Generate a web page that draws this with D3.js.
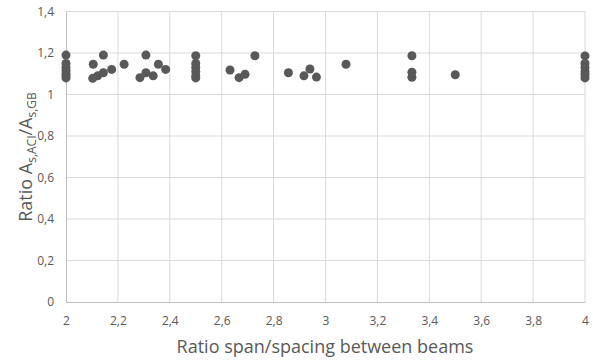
<!DOCTYPE html>
<html>
<head>
<meta charset="utf-8">
<script src="https://cdn.jsdelivr.net/npm/d3@7"></script>
<style>
  body { margin: 0; background: #fff; }
  svg text { font-family: "Open Sans", "Liberation Sans", sans-serif; fill: #595959; }
</style>
</head>
<body>
<svg id="chart" width="593" height="360"></svg>
<script>
// Span/spacing ratio of each case and the ACI/GB reinforcement area ratio
const spanRatio = [
  2, 2, 2, 2, 2, 2, 2,
  2.105, 2.144, 2.103, 2.122, 2.144, 2.176, 2.224,
  2.285, 2.308, 2.308, 2.336, 2.356, 2.384,
  2.5, 2.5, 2.5, 2.5, 2.5, 2.5,
  2.632, 2.667, 2.69, 2.728,
  2.857, 2.917, 2.94, 2.965, 3.079,
  3.333, 3.333, 3.333, 3.5,
  4, 4, 4, 4, 4, 4
];
const areaRatio = [
  1.19, 1.15, 1.13, 1.115, 1.10, 1.09, 1.08,
  1.146, 1.19, 1.078, 1.09, 1.105, 1.121, 1.146,
  1.081, 1.19, 1.105, 1.09, 1.146, 1.121,
  1.187, 1.15, 1.13, 1.11, 1.09, 1.08,
  1.118, 1.081, 1.097, 1.187,
  1.105, 1.09, 1.123, 1.084, 1.146,
  1.187, 1.107, 1.083, 1.095,
  1.186, 1.15, 1.13, 1.11, 1.095, 1.08
];
const xTicks = [2, 2.2, 2.4, 2.6, 2.8, 3, 3.2, 3.4, 3.6, 3.8, 4];
const yTicks = [0, 0.2, 0.4, 0.6, 0.8, 1, 1.2, 1.4];

const svg = d3.select("#chart");
const plotLeft = 66, plotRight = 585, plotTop = 11.5, plotBottom = 302;

const x = d3.scaleLinear().domain([2, 4]).range([plotLeft, plotRight]);
const y = d3.scaleLinear().domain([0, 1.4]).range([plotBottom, plotTop]);
const fmt = v => String(+v.toFixed(1)).replace(".", ",");

// Gridlines
svg.append("g").selectAll("line").data(yTicks.slice(1)).join("line")
  .attr("x1", plotLeft).attr("x2", plotRight)
  .attr("y1", d => y(d)).attr("y2", d => y(d))
  .attr("stroke", "#d9d9d9").attr("stroke-width", 1);
svg.append("g").selectAll("line").data(xTicks.slice(1)).join("line")
  .attr("x1", d => x(d)).attr("x2", d => x(d))
  .attr("y1", plotTop).attr("y2", plotBottom)
  .attr("stroke", "#d9d9d9").attr("stroke-width", 1);

// Axes
const xAxis = svg.append("g").attr("transform", `translate(0,${plotBottom})`)
  .call(d3.axisBottom(x).tickValues(xTicks).tickSize(0).tickPadding(14).tickFormat(fmt));
xAxis.select(".domain").attr("stroke", "#bfbfbf");
xAxis.selectAll("text").attr("font-size", 12).attr("fill", "#595959");

const yAxis = svg.append("g").attr("transform", `translate(${plotLeft},0)`)
  .call(d3.axisLeft(y).tickValues(yTicks).tickSize(0).tickPadding(12).tickFormat(fmt));
yAxis.select(".domain").attr("stroke", "#bfbfbf");
yAxis.selectAll("text").attr("font-size", 12).attr("fill", "#595959");

// Points
svg.append("g").selectAll("circle").data(spanRatio).join("circle")
  .attr("cx", d => x(d))
  .attr("cy", (d, i) => y(areaRatio[i]))
  .attr("r", 4.5)
  .attr("fill", "#595959");

// Axis titles
svg.append("text")
  .attr("x", 325).attr("y", 353)
  .attr("text-anchor", "middle").attr("font-size", 18)
  .text("Ratio span/spacing between beams");

const yt = svg.append("text")
  .attr("transform", `translate(32,157) rotate(-90)`)
  .attr("text-anchor", "middle").attr("font-size", 18);
yt.append("tspan").text("Ratio A");
yt.append("tspan").attr("font-size", 12).attr("dy", 4).text("s,ACI");
yt.append("tspan").attr("dy", -4).text("/A");
yt.append("tspan").attr("font-size", 12).attr("dy", 4).text("s,GB");
</script>
</body>
</html>
